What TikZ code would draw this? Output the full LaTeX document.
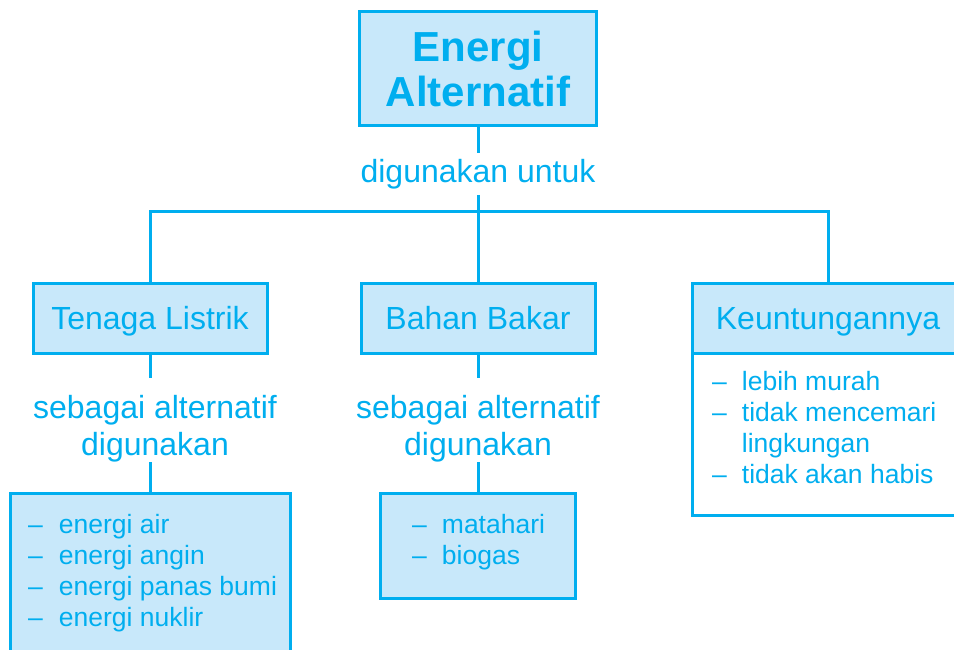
\documentclass[tikz,border=0pt]{standalone}
\usepackage{fontspec}
\setmainfont{Liberation Sans}
\definecolor{cy}{HTML}{00AEEF}
\definecolor{lb}{HTML}{C8E8FA}
\begin{document}
\begin{tikzpicture}[x=1pt,y=-1pt,
  conn/.style={draw=cy,line width=3pt},
  boxf/.style={draw=cy,fill=lb,line width=3pt,inner sep=0pt},
  boxw/.style={draw=cy,fill=white,line width=3pt,inner sep=0pt},
  lbl/.style={text=cy,font=\fontsize{32}{37}\selectfont,align=center,inner sep=0pt},
  ttl/.style={text=cy,font=\fontsize{32}{37}\selectfont,text depth=0pt},
  itemlist/.style={text=cy,font=\fontsize{26.5}{31}\selectfont,inner sep=0pt,anchor=base west}]
\useasboundingbox (0,0) rectangle (954,650);
\clip (0,0) rectangle (954,650);
% top
\node[boxf,minimum width=237pt,minimum height=114pt,text=cy,align=center,
  font=\fontsize{42}{45}\bfseries\selectfont] (top) at (478,69) {Energi\\Alternatif};
\node[lbl,anchor=base] (dig) at (478,183) {digunakan untuk};
\coordinate (t1) at (478,153);
\coordinate (t2) at (478,195);
\coordinate (jl) at (150,212);
\coordinate (jm) at (478,212);
\coordinate (jr) at (828,212);
% level 2 boxes
\node[boxf,ttl,minimum width=234pt,minimum height=70pt] (tl) at (150,318) {Tenaga Listrik};
\node[boxf,ttl,minimum width=234pt,minimum height=70pt] (bb) at (478,318) {Bahan Bakar};
\node[boxf,ttl,outer sep=0pt,minimum width=272pt,minimum height=70pt] (ku) at (828,318) {Keuntungannya};
\node[boxw,outer sep=0pt,anchor=north,minimum width=272pt,minimum height=162pt] (kb) at (ku.south) {};
% labels
\node[lbl] (la) at (155,429) {sebagai alternatif\\digunakan};
\node[lbl] (lb) at (478,429) {sebagai alternatif\\digunakan};
\coordinate (a1) at (150,378);
\coordinate (a2) at (150,462);
\coordinate (b1) at (478,378);
\coordinate (b2) at (478,462);
% bottom boxes
\node[boxf,anchor=north,minimum width=280pt,minimum height=180pt] (ea) at (150,492) {};
\node[boxf,anchor=north,minimum width=195pt,minimum height=105pt] (eb) at (478,492) {};
% lists
\node[itemlist] (la1) at (28,533) {\begin{tabular}[t]{@{}l@{\hspace{16pt}}l@{}}
 – & energi air\\ – & energi angin\\ – & energi panas bumi\\ – & energi nuklir\end{tabular}};
\node[itemlist] (lb1) at (412,533) {\begin{tabular}[t]{@{}l@{\hspace{15pt}}l@{}}
 – & matahari\\ – & biogas\end{tabular}};
\node[itemlist] (lc1) at (712,390) {\begin{tabular}[t]{@{}l@{\hspace{15pt}}l@{}}
 – & lebih murah\\ – & tidak mencemari\\ & lingkungan\\ – & tidak akan habis\end{tabular}};
% connectors
\draw[conn] (top.south) -- (t1);
\draw[conn] (t2) -- (jm);
\draw[conn] (tl.north) -- (jl) -- (jr) -- (ku.north);
\draw[conn] (jm) -- (bb.north);
\draw[conn] (tl.south) -- (a1);
\draw[conn] (a2) -- (ea.north);
\draw[conn] (bb.south) -- (b1);
\draw[conn] (b2) -- (eb.north);
\end{tikzpicture}
\end{document}
